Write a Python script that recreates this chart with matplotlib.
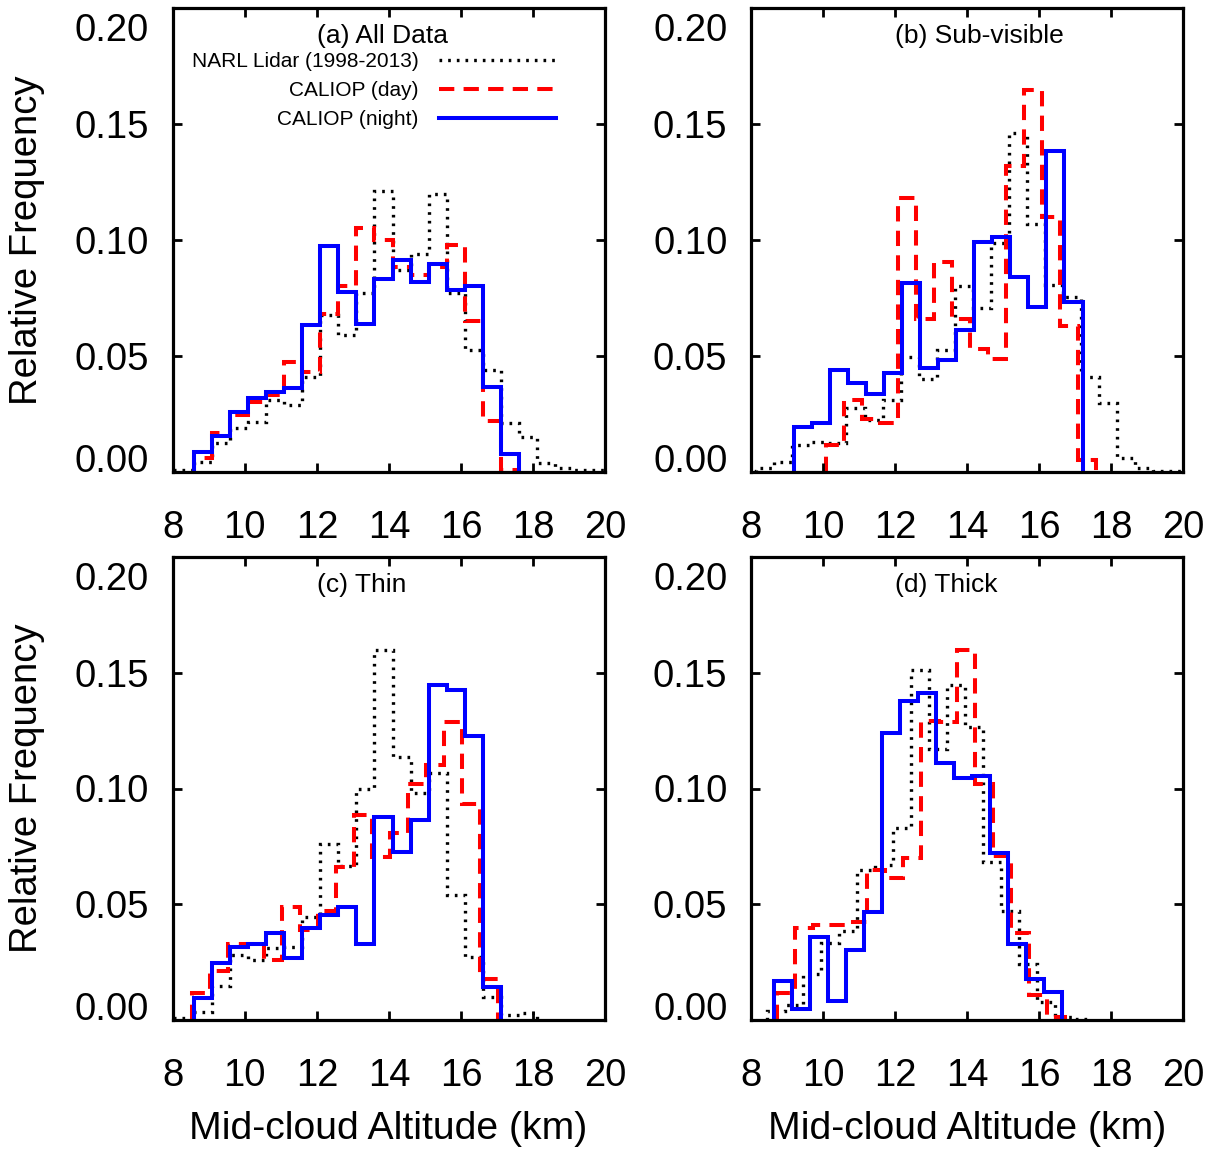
import numpy as np
import matplotlib
matplotlib.use("Agg")
import matplotlib.pyplot as plt
from matplotlib.lines import Line2D
from matplotlib.transforms import ScaledTranslation

plt.rcParams['font.family'] = ['Liberation Sans', 'DejaVu Sans']

# === Data: relative frequency in 0.5 km bins of mid-cloud altitude ===
bin_width = 0.5

# (a) All Data
a_narl_start = 7.6
a_narl = [0.001, 0.001, 0.0045, 0.0124, 0.019, 0.0217, 0.031, 0.029, 0.041, 0.0677,
          0.059, 0.077, 0.121, 0.087, 0.094, 0.120, 0.077, 0.0526, 0.044, 0.021,
          0.0152, 0.0037, 0.0016, 0.001, 0.001]
a_day_start = 8.6
a_day = [0.006, 0.017, 0.0246, 0.030, 0.033, 0.0475, 0.043, 0.068, 0.080, 0.105,
         0.100, 0.0885, 0.085, 0.0885, 0.098, 0.065, 0.022, 0.001]
a_night_start = 8.6
a_night = [0.0088, 0.0155, 0.026, 0.032, 0.0345, 0.036, 0.0632, 0.0974, 0.0776, 0.0638,
           0.0833, 0.0914, 0.082, 0.0897, 0.0784, 0.080, 0.0368, 0.0078]

# (b) Sub-visible
b_narl_start = 7.65
b_narl = [0.0005, 0.0016, 0.0045, 0.0116, 0.013, 0.0124, 0.0274, 0.0224, 0.031, 0.0497,
          0.040, 0.0526, 0.080, 0.0705, 0.0986, 0.146, 0.107, 0.0806, 0.0756, 0.041,
          0.0296, 0.006, 0.0016, 0.0005, 0.0005]
b_day_start = 10.07
b_day = [0.0116, 0.031, 0.023, 0.0213, 0.118, 0.066, 0.0905, 0.066, 0.053, 0.0486,
         0.132, 0.1645, 0.110, 0.063, 0.005]
b_night_start = 9.2
b_night = [0.0193, 0.0213, 0.044, 0.0385, 0.0336, 0.0428, 0.0813, 0.045, 0.0483, 0.061,
           0.0993, 0.1014, 0.0842, 0.071, 0.1385, 0.0734]

# (c) Thin
c_narl_start = 7.6
c_narl = [0.001, 0.001, 0.0037, 0.015, 0.028, 0.026, 0.031, 0.0318, 0.0447, 0.076,
          0.0665, 0.100, 0.1597, 0.1134, 0.098, 0.1065, 0.054, 0.0275, 0.0102, 0.0023,
          0.003]
c_day_start = 8.54
c_day = [0.0116, 0.0214, 0.033, 0.033, 0.026, 0.049, 0.039, 0.047, 0.066, 0.0885,
         0.0705, 0.0806, 0.102, 0.110, 0.1287, 0.0935, 0.018]
c_night_start = 8.6
c_night = [0.0095, 0.0246, 0.0318, 0.033, 0.0375, 0.0267, 0.040, 0.0454, 0.049, 0.0329,
           0.0875, 0.0727, 0.0864, 0.1445, 0.1424, 0.1226, 0.0142]

# (d) Thick
d_narl_start = 8.45
d_narl = [0.004, 0.0066, 0.020, 0.0335, 0.0385, 0.065, 0.0672, 0.083, 0.151, 0.117,
          0.1447, 0.1265, 0.0685, 0.047, 0.0243, 0.008, 0.0016, 0.0005]
d_day_start = 8.72
d_day = [0.0119, 0.040, 0.041, 0.041, 0.0425, 0.065, 0.0616, 0.070, 0.129, 0.1287,
         0.1596, 0.102, 0.0708, 0.0375, 0.011, 0.0015]
d_night_start = 8.64
d_night = [0.0171, 0.0049, 0.036, 0.0085, 0.0303, 0.0468, 0.124, 0.1376, 0.141, 0.1108,
           0.1047, 0.1053, 0.072, 0.033, 0.0177, 0.0124]

panel_titles = ["(a) All Data", "(b) Sub-visible", "(c) Thin", "(d) Thick"]
series_labels = ["NARL Lidar (1998-2013)", "CALIOP (day)", "CALIOP (night)"]
x_ticks = [8, 10, 12, 14, 16, 18, 20]
y_ticks = [0.0, 0.05, 0.10, 0.15, 0.20]

panels = [
    ((a_narl_start, a_narl), (a_day_start, a_day), (a_night_start, a_night)),
    ((b_narl_start, b_narl), (b_day_start, b_day), (b_night_start, b_night)),
    ((c_narl_start, c_narl), (c_day_start, c_day), (c_night_start, c_night)),
    ((d_narl_start, d_narl), (d_day_start, d_day), (d_night_start, d_night)),
]

# === Styles ===
styles = [
    dict(color="black", lw=2.4, linestyle=(0, (0.8, 1.8))),
    dict(color="#ff0000", lw=2.9, linestyle=(0, (3.8, 2.3))),
    dict(color="#0000ff", lw=2.9, linestyle="-"),
]

W, H = 1215, 1153
fig = plt.figure(figsize=(W / 100, H / 100), dpi=100)

# axes boxes in pixels: left, right, y of 0.00, y of 0.20 (from top)
boxes = [
    (172.7, 605.1, 472.0, 8.0),
    (751.0, 1183.4, 472.0, 8.0),
    (172.7, 605.1, 1020.3, 556.7),
    (751.0, 1183.4, 1020.3, 556.7),
]

tick_fs = 27.5
axes_list = []
for i, (l, r, y0, y1) in enumerate(boxes):
    ax = fig.add_axes([l / W, (H - y0) / H, (r - l) / W, (y0 - y1) / H])
    axes_list.append(ax)

    for (start, vals), st in zip(panels[i], styles):
        edges = start + bin_width * np.arange(len(vals) + 1)
        ax.stairs(vals, edges, baseline=0, fill=False, **st)

    ax.set_xlim(8, 20)
    ax.set_ylim(0, 0.20)
    ax.set_xticks(x_ticks)
    ax.set_yticks(y_ticks)
    ax.set_yticklabels(["%.2f" % v for v in y_ticks])
    ax.tick_params(direction="in", top=True, right=True, length=6.5, width=2.0,
                   labelsize=tick_fs)
    ax.tick_params(axis="x", pad=27.5)
    ax.tick_params(axis="y", pad=17)

    # end labels pulled inside the frame, like the original
    yt = ax.yaxis.get_major_ticks()
    yt[0].label1.set_va("baseline")
    yt[-1].label1.set_va("top")
    yt[-1].label1.set_transform(yt[-1].label1.get_transform()
                                + ScaledTranslation(0, -0.05, fig.dpi_scale_trans))
    for sp in ax.spines.values():
        sp.set_linewidth(2.3)

    ax.text(12.0, 0.188, panel_titles[i], ha="left", va="center", fontsize=19)

# === Legend in panel (a) ===
handles = [Line2D([], [], **st) for st in styles]
axes_list[0].legend(handles, series_labels, loc="upper right",
                    bbox_to_anchor=((556 - 172.7) / 432.4, (472 - 52) / 464),
                    frameon=False, markerfirst=False, fontsize=15,
                    handlelength=5.6, handletextpad=1.0, labelspacing=0.48,
                    borderpad=0, borderaxespad=0)

# === Axis labels ===
for yc in [240, 788]:
    fig.text(27 / W, 1 - yc / H, "Relative Frequency", rotation=90,
             ha="center", va="center", fontsize=tick_fs)
for xc in [388, 967]:
    fig.text(xc / W, 1 - 1129 / H, "Mid-cloud Altitude (km)",
             ha="center", va="center", fontsize=28.2)

fig.savefig("out.png", dpi=100)
